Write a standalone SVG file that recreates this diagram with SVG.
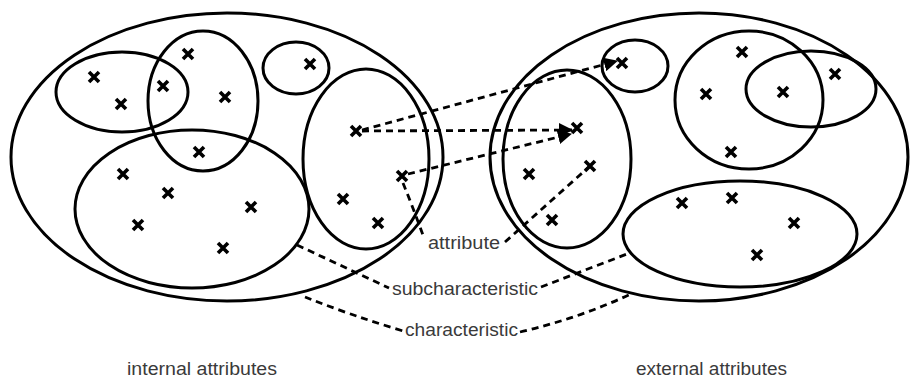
<svg xmlns="http://www.w3.org/2000/svg" xmlns:xlink="http://www.w3.org/1999/xlink" width="911" height="380" viewBox="0 0 911 380">
<style>
.set{fill:none;stroke:#000;stroke-width:3}
.dash{fill:none;stroke:#000;stroke-width:2.8;stroke-dasharray:7,5}
.lbl{font-family:"Liberation Sans",Arial,sans-serif;font-size:17.5px;fill:#3a3a3a}
</style>
<defs>
<g id="x"><path d="M-5,-5L5,5M5,-5L-5,5" stroke="#000" stroke-width="3.6" fill="none"/></g>
<marker id="ah" viewBox="0 0 14 14" refX="13" refY="7" markerWidth="14" markerHeight="14" markerUnits="userSpaceOnUse" orient="auto">
<path d="M0,0L14,7L0,14z" fill="#000"/>
</marker>
</defs>
<rect width="911" height="380" fill="#fff"/>
<g id="internal">
<ellipse class="set" cx="227" cy="157" rx="216" ry="144"/>
<g id="int-A"><ellipse class="set" cx="122" cy="92" rx="66" ry="40"/></g>
<g id="int-B"><ellipse class="set" cx="203" cy="101" rx="55" ry="70"/></g>
<g id="int-C"><ellipse class="set" cx="296" cy="68" rx="33" ry="26"/></g>
<g id="int-D"><ellipse class="set" cx="192" cy="209" rx="117" ry="79"/></g>
<g id="int-E"><ellipse class="set" cx="366" cy="159" rx="63" ry="90"/></g>
<use xlink:href="#x" x="94" y="77"/>
<use xlink:href="#x" x="121" y="104"/>
<use xlink:href="#x" x="163" y="86"/>
<use xlink:href="#x" x="188" y="54"/>
<use xlink:href="#x" x="225" y="97"/>
<use xlink:href="#x" x="310" y="64"/>
<use xlink:href="#x" x="199" y="152"/>
<use xlink:href="#x" x="123" y="174"/>
<use xlink:href="#x" x="168" y="193"/>
<use xlink:href="#x" x="251" y="207"/>
<use xlink:href="#x" x="138" y="225"/>
<use xlink:href="#x" x="223" y="248"/>
<use xlink:href="#x" x="356" y="131"/>
<use xlink:href="#x" x="402" y="176"/>
<use xlink:href="#x" x="343" y="199"/>
<use xlink:href="#x" x="378" y="223"/>
</g>
<g id="external">
<ellipse class="set" cx="699" cy="157" rx="209" ry="144"/>
<g id="ext-A"><ellipse class="set" cx="635" cy="66" rx="33" ry="26"/></g>
<g id="ext-B"><ellipse class="set" cx="567" cy="159" rx="64" ry="89"/></g>
<g id="ext-C"><ellipse class="set" cx="749" cy="100" rx="74" ry="69"/></g>
<g id="ext-D"><ellipse class="set" cx="811" cy="89" rx="65" ry="38"/></g>
<g id="ext-E"><ellipse class="set" cx="740" cy="234" rx="117" ry="53"/></g>
<use xlink:href="#x" x="622" y="63"/>
<use xlink:href="#x" x="577" y="128"/>
<use xlink:href="#x" x="529" y="174"/>
<use xlink:href="#x" x="590" y="166"/>
<use xlink:href="#x" x="552" y="220"/>
<use xlink:href="#x" x="742" y="52"/>
<use xlink:href="#x" x="706" y="94"/>
<use xlink:href="#x" x="783" y="92"/>
<use xlink:href="#x" x="835" y="74"/>
<use xlink:href="#x" x="731" y="152"/>
<use xlink:href="#x" x="682" y="203"/>
<use xlink:href="#x" x="732" y="198"/>
<use xlink:href="#x" x="794" y="223"/>
<use xlink:href="#x" x="757" y="255"/>
</g>
<g id="connectors">
<path class="dash" d="M362,130L617,61" marker-end="url(#ah)"/>
<path class="dash" d="M362,131L572,130" marker-end="url(#ah)"/>
<path class="dash" d="M408,174L571,134" marker-end="url(#ah)"/>
<path class="dash" d="M403,183Q414,210 424,238"/>
<path class="dash" d="M505,242L590,166"/>
<path class="dash" d="M297,245L389,288"/>
<path class="dash" d="M541,287L627,254"/>
<path class="dash" d="M305,297Q350,315 403,331"/>
<path class="dash" d="M520,332Q580,318 633,293"/>
</g>
<g id="labels">
<text class="lbl" x="428" y="249" textLength="72" lengthAdjust="spacingAndGlyphs">attribute</text>
<text class="lbl" x="392" y="295" textLength="146" lengthAdjust="spacingAndGlyphs">subcharacteristic</text>
<text class="lbl" x="405" y="336" textLength="113" lengthAdjust="spacingAndGlyphs">characteristic</text>
<text class="lbl" x="127" y="375" textLength="150" lengthAdjust="spacingAndGlyphs">internal attributes</text>
<text class="lbl" x="636" y="375" textLength="151" lengthAdjust="spacingAndGlyphs">external attributes</text>
</g>
</svg>
